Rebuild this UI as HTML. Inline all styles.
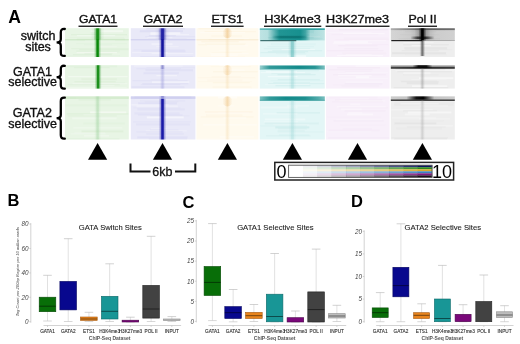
<!DOCTYPE html>
<html><head><meta charset="utf-8"><style>html,body{margin:0;padding:0;background:#fff;}svg{display:block;filter:blur(0.35px);}</style></head>
<body><svg width="520" height="344" viewBox="0 0 520 344">
<defs><linearGradient id="g1" x1="0" x2="1" y1="0" y2="0"><stop offset="0" stop-color="#0a880a" stop-opacity="0"/><stop offset="0.25" stop-color="#0a880a" stop-opacity="0.35"/><stop offset="0.4" stop-color="#0a880a" stop-opacity="1.0"/><stop offset="0.6" stop-color="#0a880a" stop-opacity="1.0"/><stop offset="0.75" stop-color="#0a880a" stop-opacity="0.35"/><stop offset="1" stop-color="#0a880a" stop-opacity="0"/></linearGradient><linearGradient id="g2" x1="0" x2="1" y1="0" y2="0"><stop offset="0" stop-color="#40a040" stop-opacity="0"/><stop offset="0.25" stop-color="#40a040" stop-opacity="0.0875"/><stop offset="0.4" stop-color="#40a040" stop-opacity="0.25"/><stop offset="0.6" stop-color="#40a040" stop-opacity="0.25"/><stop offset="0.75" stop-color="#40a040" stop-opacity="0.0875"/><stop offset="1" stop-color="#40a040" stop-opacity="0"/></linearGradient><linearGradient id="g3" x1="0" x2="1" y1="0" y2="0"><stop offset="0" stop-color="#0a880a" stop-opacity="0"/><stop offset="0.25" stop-color="#0a880a" stop-opacity="0.35"/><stop offset="0.4" stop-color="#0a880a" stop-opacity="1.0"/><stop offset="0.6" stop-color="#0a880a" stop-opacity="1.0"/><stop offset="0.75" stop-color="#0a880a" stop-opacity="0.35"/><stop offset="1" stop-color="#0a880a" stop-opacity="0"/></linearGradient><linearGradient id="g4" x1="0" x2="1" y1="0" y2="0"><stop offset="0" stop-color="#128a12" stop-opacity="0"/><stop offset="0.25" stop-color="#128a12" stop-opacity="0.33249999999999996"/><stop offset="0.4" stop-color="#128a12" stop-opacity="0.95"/><stop offset="0.6" stop-color="#128a12" stop-opacity="0.95"/><stop offset="0.75" stop-color="#128a12" stop-opacity="0.33249999999999996"/><stop offset="1" stop-color="#128a12" stop-opacity="0"/></linearGradient><linearGradient id="g5" x1="0" x2="1" y1="0" y2="0"><stop offset="0" stop-color="#9ad09a" stop-opacity="0"/><stop offset="0.25" stop-color="#9ad09a" stop-opacity="0.1575"/><stop offset="0.4" stop-color="#9ad09a" stop-opacity="0.45"/><stop offset="0.6" stop-color="#9ad09a" stop-opacity="0.45"/><stop offset="0.75" stop-color="#9ad09a" stop-opacity="0.1575"/><stop offset="1" stop-color="#9ad09a" stop-opacity="0"/></linearGradient><linearGradient id="g6" x1="0" x2="1" y1="0" y2="0"><stop offset="0" stop-color="#14149e" stop-opacity="0"/><stop offset="0.25" stop-color="#14149e" stop-opacity="0.35"/><stop offset="0.4" stop-color="#14149e" stop-opacity="1.0"/><stop offset="0.6" stop-color="#14149e" stop-opacity="1.0"/><stop offset="0.75" stop-color="#14149e" stop-opacity="0.35"/><stop offset="1" stop-color="#14149e" stop-opacity="0"/></linearGradient><linearGradient id="g7" x1="0" x2="1" y1="0" y2="0"><stop offset="0" stop-color="#4a4ab8" stop-opacity="0"/><stop offset="0.25" stop-color="#4a4ab8" stop-opacity="0.0875"/><stop offset="0.4" stop-color="#4a4ab8" stop-opacity="0.25"/><stop offset="0.6" stop-color="#4a4ab8" stop-opacity="0.25"/><stop offset="0.75" stop-color="#4a4ab8" stop-opacity="0.0875"/><stop offset="1" stop-color="#4a4ab8" stop-opacity="0"/></linearGradient><linearGradient id="g8" x1="0" x2="1" y1="0" y2="0"><stop offset="0" stop-color="#14149e" stop-opacity="0"/><stop offset="0.25" stop-color="#14149e" stop-opacity="0.35"/><stop offset="0.4" stop-color="#14149e" stop-opacity="1.0"/><stop offset="0.6" stop-color="#14149e" stop-opacity="1.0"/><stop offset="0.75" stop-color="#14149e" stop-opacity="0.35"/><stop offset="1" stop-color="#14149e" stop-opacity="0"/></linearGradient><linearGradient id="g9" x1="0" x2="1" y1="0" y2="0"><stop offset="0" stop-color="#9c9cdc" stop-opacity="0"/><stop offset="0.25" stop-color="#9c9cdc" stop-opacity="0.1575"/><stop offset="0.4" stop-color="#9c9cdc" stop-opacity="0.45"/><stop offset="0.6" stop-color="#9c9cdc" stop-opacity="0.45"/><stop offset="0.75" stop-color="#9c9cdc" stop-opacity="0.1575"/><stop offset="1" stop-color="#9c9cdc" stop-opacity="0"/></linearGradient><linearGradient id="g10" x1="0" x2="1" y1="0" y2="0"><stop offset="0" stop-color="#6060b8" stop-opacity="0"/><stop offset="0.25" stop-color="#6060b8" stop-opacity="0.175"/><stop offset="0.4" stop-color="#6060b8" stop-opacity="0.5"/><stop offset="0.6" stop-color="#6060b8" stop-opacity="0.5"/><stop offset="0.75" stop-color="#6060b8" stop-opacity="0.175"/><stop offset="1" stop-color="#6060b8" stop-opacity="0"/></linearGradient><linearGradient id="g11" x1="0" x2="1" y1="0" y2="0"><stop offset="0" stop-color="#1a1aa8" stop-opacity="0"/><stop offset="0.25" stop-color="#1a1aa8" stop-opacity="0.35"/><stop offset="0.4" stop-color="#1a1aa8" stop-opacity="1.0"/><stop offset="0.6" stop-color="#1a1aa8" stop-opacity="1.0"/><stop offset="0.75" stop-color="#1a1aa8" stop-opacity="0.35"/><stop offset="1" stop-color="#1a1aa8" stop-opacity="0"/></linearGradient><linearGradient id="g12" x1="0" x2="1" y1="0" y2="0"><stop offset="0" stop-color="#eab060" stop-opacity="0"/><stop offset="0.3" stop-color="#eab060" stop-opacity="0.25"/><stop offset="0.5" stop-color="#eab060" stop-opacity="0.5"/><stop offset="0.7" stop-color="#eab060" stop-opacity="0.25"/><stop offset="1" stop-color="#eab060" stop-opacity="0"/></linearGradient><linearGradient id="g13" x1="0" x2="1" y1="0" y2="0"><stop offset="0" stop-color="#f4d8a8" stop-opacity="0"/><stop offset="0.25" stop-color="#f4d8a8" stop-opacity="0.12249999999999998"/><stop offset="0.4" stop-color="#f4d8a8" stop-opacity="0.35"/><stop offset="0.6" stop-color="#f4d8a8" stop-opacity="0.35"/><stop offset="0.75" stop-color="#f4d8a8" stop-opacity="0.12249999999999998"/><stop offset="1" stop-color="#f4d8a8" stop-opacity="0"/></linearGradient><linearGradient id="g14" x1="0" x2="1" y1="0" y2="0"><stop offset="0" stop-color="#eab060" stop-opacity="0"/><stop offset="0.3" stop-color="#eab060" stop-opacity="0.175"/><stop offset="0.5" stop-color="#eab060" stop-opacity="0.35"/><stop offset="0.7" stop-color="#eab060" stop-opacity="0.175"/><stop offset="1" stop-color="#eab060" stop-opacity="0"/></linearGradient><linearGradient id="g15" x1="0" x2="1" y1="0" y2="0"><stop offset="0" stop-color="#f4d8a8" stop-opacity="0"/><stop offset="0.25" stop-color="#f4d8a8" stop-opacity="0.12249999999999998"/><stop offset="0.4" stop-color="#f4d8a8" stop-opacity="0.35"/><stop offset="0.6" stop-color="#f4d8a8" stop-opacity="0.35"/><stop offset="0.75" stop-color="#f4d8a8" stop-opacity="0.12249999999999998"/><stop offset="1" stop-color="#f4d8a8" stop-opacity="0"/></linearGradient><linearGradient id="g16" x1="0" x2="1" y1="0" y2="0"><stop offset="0" stop-color="#eab060" stop-opacity="0"/><stop offset="0.3" stop-color="#eab060" stop-opacity="0.2"/><stop offset="0.5" stop-color="#eab060" stop-opacity="0.4"/><stop offset="0.7" stop-color="#eab060" stop-opacity="0.2"/><stop offset="1" stop-color="#eab060" stop-opacity="0"/></linearGradient><linearGradient id="g17" x1="0" x2="1" y1="0" y2="0"><stop offset="0" stop-color="#f4d8a8" stop-opacity="0"/><stop offset="0.25" stop-color="#f4d8a8" stop-opacity="0.12249999999999998"/><stop offset="0.4" stop-color="#f4d8a8" stop-opacity="0.35"/><stop offset="0.6" stop-color="#f4d8a8" stop-opacity="0.35"/><stop offset="0.75" stop-color="#f4d8a8" stop-opacity="0.12249999999999998"/><stop offset="1" stop-color="#f4d8a8" stop-opacity="0"/></linearGradient><linearGradient id="g18" x1="0" x2="1" y1="0" y2="0"><stop offset="0" stop-color="#17908f" stop-opacity="0.18"/><stop offset="0.12" stop-color="#17908f" stop-opacity="0.22"/><stop offset="0.2" stop-color="#17908f" stop-opacity="0.55"/><stop offset="0.3" stop-color="#17908f" stop-opacity="0.95"/><stop offset="0.62" stop-color="#17908f" stop-opacity="1"/><stop offset="0.7" stop-color="#17908f" stop-opacity="0.8"/><stop offset="0.78" stop-color="#17908f" stop-opacity="0.3"/><stop offset="1" stop-color="#17908f" stop-opacity="0.18"/></linearGradient><linearGradient id="g19" x1="0" x2="1" y1="0" y2="0"><stop offset="0" stop-color="#1e9a9a" stop-opacity="0.6"/><stop offset="0.5" stop-color="#1e9a9a" stop-opacity="1"/><stop offset="1" stop-color="#1e9a9a" stop-opacity="0.85"/></linearGradient><linearGradient id="g20" x1="0" x2="1" y1="0" y2="0"><stop offset="0" stop-color="#0a7070" stop-opacity="0"/><stop offset="0.25" stop-color="#0a7070" stop-opacity="0.8"/><stop offset="0.75" stop-color="#0a7070" stop-opacity="0.8"/><stop offset="1" stop-color="#0a7070" stop-opacity="0"/></linearGradient><linearGradient id="g21" x1="0" x2="1" y1="0" y2="0"><stop offset="0" stop-color="#4ab0b0" stop-opacity="0"/><stop offset="0.25" stop-color="#4ab0b0" stop-opacity="0.1925"/><stop offset="0.4" stop-color="#4ab0b0" stop-opacity="0.55"/><stop offset="0.6" stop-color="#4ab0b0" stop-opacity="0.55"/><stop offset="0.75" stop-color="#4ab0b0" stop-opacity="0.1925"/><stop offset="1" stop-color="#4ab0b0" stop-opacity="0"/></linearGradient><linearGradient id="g22" x1="0" x2="1" y1="0" y2="0"><stop offset="0" stop-color="#138a8a" stop-opacity="0.35"/><stop offset="0.15" stop-color="#138a8a" stop-opacity="0.85"/><stop offset="0.6" stop-color="#138a8a" stop-opacity="1"/><stop offset="0.85" stop-color="#138a8a" stop-opacity="0.9"/><stop offset="1" stop-color="#138a8a" stop-opacity="0.5"/></linearGradient><linearGradient id="g23" x1="0" x2="1" y1="0" y2="0"><stop offset="0" stop-color="#8ad0d0" stop-opacity="0"/><stop offset="0.25" stop-color="#8ad0d0" stop-opacity="0.13999999999999999"/><stop offset="0.4" stop-color="#8ad0d0" stop-opacity="0.4"/><stop offset="0.6" stop-color="#8ad0d0" stop-opacity="0.4"/><stop offset="0.75" stop-color="#8ad0d0" stop-opacity="0.13999999999999999"/><stop offset="1" stop-color="#8ad0d0" stop-opacity="0"/></linearGradient><linearGradient id="g24" x1="0" x2="1" y1="0" y2="0"><stop offset="0" stop-color="#138a8a" stop-opacity="0.5"/><stop offset="0.15" stop-color="#138a8a" stop-opacity="0.85"/><stop offset="0.4" stop-color="#138a8a" stop-opacity="1"/><stop offset="0.7" stop-color="#138a8a" stop-opacity="0.95"/><stop offset="0.9" stop-color="#138a8a" stop-opacity="0.7"/><stop offset="1" stop-color="#138a8a" stop-opacity="0.5"/></linearGradient><linearGradient id="g25" x1="0" x2="1" y1="0" y2="0"><stop offset="0" stop-color="#96d4d4" stop-opacity="0"/><stop offset="0.25" stop-color="#96d4d4" stop-opacity="0.13299999999999998"/><stop offset="0.4" stop-color="#96d4d4" stop-opacity="0.38"/><stop offset="0.6" stop-color="#96d4d4" stop-opacity="0.38"/><stop offset="0.75" stop-color="#96d4d4" stop-opacity="0.13299999999999998"/><stop offset="1" stop-color="#96d4d4" stop-opacity="0"/></linearGradient><linearGradient id="g26" x1="0" x2="1" y1="0" y2="0"><stop offset="0" stop-color="#9a9a9a" stop-opacity="0.3"/><stop offset="0.3" stop-color="#9a9a9a" stop-opacity="0.4"/><stop offset="0.45" stop-color="#9a9a9a" stop-opacity="0.7"/><stop offset="0.55" stop-color="#9a9a9a" stop-opacity="0.7"/><stop offset="0.7" stop-color="#9a9a9a" stop-opacity="0.4"/><stop offset="1" stop-color="#9a9a9a" stop-opacity="0.35"/></linearGradient><linearGradient id="g27" x1="0" x2="1" y1="0" y2="0"><stop offset="0" stop-color="#555555" stop-opacity="0.3"/><stop offset="0.45" stop-color="#555555" stop-opacity="0.8"/><stop offset="0.55" stop-color="#555555" stop-opacity="0.9"/><stop offset="1" stop-color="#555555" stop-opacity="0.8"/></linearGradient><linearGradient id="g28" x1="0" x2="1" y1="0" y2="0"><stop offset="0" stop-color="#222222" stop-opacity="0"/><stop offset="0.3" stop-color="#222222" stop-opacity="0.8"/><stop offset="0.6" stop-color="#222222" stop-opacity="1"/><stop offset="1" stop-color="#222222" stop-opacity="0"/></linearGradient><linearGradient id="g29" x1="0" x2="1" y1="0" y2="0"><stop offset="0" stop-color="#333333" stop-opacity="0"/><stop offset="0.25" stop-color="#333333" stop-opacity="0.1575"/><stop offset="0.4" stop-color="#333333" stop-opacity="0.45"/><stop offset="0.6" stop-color="#333333" stop-opacity="0.45"/><stop offset="0.75" stop-color="#333333" stop-opacity="0.1575"/><stop offset="1" stop-color="#333333" stop-opacity="0"/></linearGradient><linearGradient id="g30" x1="0" x2="1" y1="0" y2="0"><stop offset="0" stop-color="#000000" stop-opacity="0"/><stop offset="0.25" stop-color="#000000" stop-opacity="0.35"/><stop offset="0.4" stop-color="#000000" stop-opacity="1.0"/><stop offset="0.6" stop-color="#000000" stop-opacity="1.0"/><stop offset="0.75" stop-color="#000000" stop-opacity="0.35"/><stop offset="1" stop-color="#000000" stop-opacity="0"/></linearGradient><linearGradient id="g31" x1="0" x2="1" y1="0" y2="0"><stop offset="0" stop-color="#444444" stop-opacity="0"/><stop offset="0.25" stop-color="#444444" stop-opacity="0.24499999999999997"/><stop offset="0.4" stop-color="#444444" stop-opacity="0.7"/><stop offset="0.6" stop-color="#444444" stop-opacity="0.7"/><stop offset="0.75" stop-color="#444444" stop-opacity="0.24499999999999997"/><stop offset="1" stop-color="#444444" stop-opacity="0"/></linearGradient><linearGradient id="g32" x1="0" x2="1" y1="0" y2="0"><stop offset="0" stop-color="#1a1a1a" stop-opacity="0.8"/><stop offset="0.35" stop-color="#1a1a1a" stop-opacity="0.9"/><stop offset="0.5" stop-color="#1a1a1a" stop-opacity="1"/><stop offset="0.65" stop-color="#1a1a1a" stop-opacity="0.9"/><stop offset="1" stop-color="#1a1a1a" stop-opacity="0.85"/></linearGradient><linearGradient id="g33" x1="0" x2="1" y1="0" y2="0"><stop offset="0" stop-color="#000000" stop-opacity="0"/><stop offset="0.3" stop-color="#000000" stop-opacity="0.9"/><stop offset="0.7" stop-color="#000000" stop-opacity="0.9"/><stop offset="1" stop-color="#000000" stop-opacity="0"/></linearGradient><linearGradient id="g34" x1="0" x2="1" y1="0" y2="0"><stop offset="0" stop-color="#888888" stop-opacity="0"/><stop offset="0.25" stop-color="#888888" stop-opacity="0.13999999999999999"/><stop offset="0.4" stop-color="#888888" stop-opacity="0.4"/><stop offset="0.6" stop-color="#888888" stop-opacity="0.4"/><stop offset="0.75" stop-color="#888888" stop-opacity="0.13999999999999999"/><stop offset="1" stop-color="#888888" stop-opacity="0"/></linearGradient><linearGradient id="g35" x1="0" x2="1" y1="0" y2="0"><stop offset="0" stop-color="#aaaaaa" stop-opacity="0.5"/><stop offset="0.5" stop-color="#aaaaaa" stop-opacity="0.7"/><stop offset="1" stop-color="#aaaaaa" stop-opacity="0.5"/></linearGradient><linearGradient id="g36" x1="0" x2="1" y1="0" y2="0"><stop offset="0" stop-color="#000000" stop-opacity="0"/><stop offset="0.35" stop-color="#000000" stop-opacity="0.9"/><stop offset="0.6" stop-color="#000000" stop-opacity="1"/><stop offset="1" stop-color="#000000" stop-opacity="0"/></linearGradient><linearGradient id="g37" x1="0" x2="1" y1="0" y2="0"><stop offset="0" stop-color="#aaaaaa" stop-opacity="0"/><stop offset="0.25" stop-color="#aaaaaa" stop-opacity="0.13999999999999999"/><stop offset="0.4" stop-color="#aaaaaa" stop-opacity="0.4"/><stop offset="0.6" stop-color="#aaaaaa" stop-opacity="0.4"/><stop offset="0.75" stop-color="#aaaaaa" stop-opacity="0.13999999999999999"/><stop offset="1" stop-color="#aaaaaa" stop-opacity="0"/></linearGradient></defs>
<rect width="520" height="344" fill="#fff"/>
<rect x="65.00" y="28.20" width="63.80" height="28.80" fill="#e8f5e5"/><rect x="90.65" y="30.20" width="32.45" height="2.00" fill="#ffffff" opacity="0.44"/><rect x="71.07" y="34.20" width="55.92" height="1.00" fill="#c8e4c0" opacity="0.30"/><rect x="76.88" y="35.20" width="38.33" height="1.00" fill="#ffffff" opacity="0.42"/><rect x="68.80" y="37.20" width="55.16" height="1.00" fill="#c8e4c0" opacity="0.11"/><rect x="76.82" y="38.20" width="48.07" height="2.00" fill="#c8e4c0" opacity="0.16"/><rect x="84.87" y="40.20" width="30.21" height="1.00" fill="#ffffff" opacity="0.28"/><rect x="76.26" y="43.20" width="50.38" height="1.00" fill="#c8e4c0" opacity="0.13"/><rect x="84.16" y="44.20" width="27.69" height="1.00" fill="#c8e4c0" opacity="0.10"/><rect x="94.41" y="46.20" width="22.47" height="1.00" fill="#ffffff" opacity="0.22"/><rect x="71.22" y="48.20" width="57.27" height="1.00" fill="#c8e4c0" opacity="0.20"/><rect x="79.14" y="49.20" width="49.44" height="1.00" fill="#c8e4c0" opacity="0.22"/><rect x="76.19" y="50.20" width="43.67" height="2.00" fill="#c8e4c0" opacity="0.15"/><rect x="76.51" y="52.20" width="40.44" height="1.00" fill="#ffffff" opacity="0.50"/><rect x="84.42" y="53.20" width="28.31" height="1.00" fill="#c8e4c0" opacity="0.18"/><rect x="72.89" y="54.20" width="38.83" height="1.00" fill="#c8e4c0" opacity="0.26"/><rect x="67.93" y="55.20" width="52.04" height="1.00" fill="#c8e4c0" opacity="0.10"/><rect x="65.00" y="65.20" width="63.80" height="23.40" fill="#e8f5e5"/><rect x="66.80" y="65.20" width="50.34" height="2.00" fill="#c8e4c0" opacity="0.16"/><rect x="74.06" y="67.20" width="35.55" height="1.00" fill="#c8e4c0" opacity="0.22"/><rect x="68.12" y="76.20" width="59.52" height="1.00" fill="#ffffff" opacity="0.49"/><rect x="81.47" y="78.20" width="35.40" height="2.00" fill="#c8e4c0" opacity="0.17"/><rect x="74.59" y="81.20" width="41.14" height="1.00" fill="#c8e4c0" opacity="0.25"/><rect x="83.35" y="82.20" width="41.37" height="1.00" fill="#c8e4c0" opacity="0.10"/><rect x="72.47" y="83.20" width="54.93" height="1.00" fill="#ffffff" opacity="0.28"/><rect x="67.77" y="84.20" width="52.02" height="1.00" fill="#c8e4c0" opacity="0.18"/><rect x="92.71" y="85.20" width="21.85" height="1.00" fill="#ffffff" opacity="0.31"/><rect x="67.25" y="87.20" width="59.54" height="1.00" fill="#ffffff" opacity="0.29"/><rect x="65.00" y="96.40" width="63.80" height="43.10" fill="#e8f5e5"/><rect x="76.03" y="97.40" width="51.43" height="1.00" fill="#ffffff" opacity="0.48"/><rect x="78.70" y="99.40" width="32.08" height="1.00" fill="#c8e4c0" opacity="0.32"/><rect x="65.25" y="104.40" width="62.11" height="2.00" fill="#c8e4c0" opacity="0.12"/><rect x="90.15" y="111.40" width="36.14" height="2.00" fill="#ffffff" opacity="0.43"/><rect x="66.75" y="113.40" width="61.60" height="1.00" fill="#c8e4c0" opacity="0.34"/><rect x="83.44" y="114.40" width="17.75" height="1.00" fill="#ffffff" opacity="0.28"/><rect x="67.86" y="115.40" width="48.70" height="1.00" fill="#c8e4c0" opacity="0.23"/><rect x="72.24" y="117.40" width="44.41" height="2.00" fill="#ffffff" opacity="0.28"/><rect x="83.42" y="122.40" width="41.19" height="2.00" fill="#c8e4c0" opacity="0.13"/><rect x="73.25" y="127.40" width="49.12" height="1.00" fill="#ffffff" opacity="0.32"/><rect x="81.57" y="130.40" width="41.66" height="2.00" fill="#c8e4c0" opacity="0.25"/><rect x="74.27" y="132.40" width="30.78" height="1.00" fill="#ffffff" opacity="0.21"/><rect x="70.70" y="133.40" width="35.03" height="1.00" fill="#ffffff" opacity="0.28"/><rect x="83.90" y="135.40" width="25.25" height="1.00" fill="#ffffff" opacity="0.44"/><rect x="65.22" y="138.40" width="54.14" height="1.00" fill="#c8e4c0" opacity="0.28"/><rect x="130.80" y="28.20" width="64.60" height="28.80" fill="#e9e9f8"/><rect x="146.37" y="28.20" width="38.23" height="1.00" fill="#cacaee" opacity="0.34"/><rect x="146.64" y="29.20" width="30.64" height="1.00" fill="#cacaee" opacity="0.12"/><rect x="139.87" y="30.20" width="43.02" height="2.00" fill="#cacaee" opacity="0.33"/><rect x="150.38" y="32.20" width="29.94" height="2.00" fill="#ffffff" opacity="0.45"/><rect x="150.34" y="34.20" width="38.91" height="1.00" fill="#ffffff" opacity="0.42"/><rect x="148.80" y="35.20" width="26.99" height="1.00" fill="#cacaee" opacity="0.34"/><rect x="145.17" y="36.20" width="49.92" height="1.00" fill="#cacaee" opacity="0.23"/><rect x="147.31" y="37.20" width="25.04" height="1.00" fill="#ffffff" opacity="0.35"/><rect x="148.15" y="38.20" width="38.67" height="1.00" fill="#cacaee" opacity="0.11"/><rect x="160.79" y="40.20" width="7.59" height="1.00" fill="#ffffff" opacity="0.36"/><rect x="151.47" y="43.20" width="21.19" height="2.00" fill="#ffffff" opacity="0.33"/><rect x="156.11" y="46.20" width="22.49" height="1.00" fill="#ffffff" opacity="0.29"/><rect x="133.62" y="49.20" width="50.88" height="1.00" fill="#cacaee" opacity="0.17"/><rect x="141.52" y="50.20" width="43.82" height="2.00" fill="#cacaee" opacity="0.25"/><rect x="132.12" y="52.20" width="35.76" height="1.00" fill="#ffffff" opacity="0.36"/><rect x="151.53" y="53.20" width="41.89" height="1.00" fill="#ffffff" opacity="0.36"/><rect x="140.26" y="56.20" width="52.60" height="0.80" fill="#cacaee" opacity="0.21"/><rect x="130.80" y="65.20" width="64.60" height="23.40" fill="#e9e9f8"/><rect x="134.06" y="65.20" width="48.76" height="2.00" fill="#ffffff" opacity="0.21"/><rect x="146.39" y="67.20" width="48.56" height="1.00" fill="#cacaee" opacity="0.15"/><rect x="136.48" y="68.20" width="44.45" height="1.00" fill="#cacaee" opacity="0.16"/><rect x="145.42" y="69.20" width="47.53" height="2.00" fill="#cacaee" opacity="0.23"/><rect x="143.46" y="72.20" width="35.44" height="2.00" fill="#cacaee" opacity="0.25"/><rect x="156.34" y="75.20" width="20.71" height="1.00" fill="#ffffff" opacity="0.46"/><rect x="150.77" y="79.20" width="26.88" height="1.00" fill="#cacaee" opacity="0.13"/><rect x="132.56" y="80.20" width="55.08" height="1.00" fill="#cacaee" opacity="0.21"/><rect x="151.95" y="81.20" width="37.44" height="2.00" fill="#ffffff" opacity="0.39"/><rect x="142.20" y="83.20" width="46.05" height="1.00" fill="#cacaee" opacity="0.31"/><rect x="140.91" y="84.20" width="39.32" height="1.00" fill="#cacaee" opacity="0.23"/><rect x="131.55" y="86.20" width="52.82" height="2.00" fill="#cacaee" opacity="0.23"/><rect x="130.80" y="96.40" width="64.60" height="43.10" fill="#e9e9f8"/><rect x="134.49" y="96.40" width="56.83" height="2.00" fill="#cacaee" opacity="0.31"/><rect x="134.83" y="99.40" width="40.14" height="1.00" fill="#ffffff" opacity="0.22"/><rect x="140.14" y="100.40" width="44.96" height="1.00" fill="#cacaee" opacity="0.21"/><rect x="144.82" y="101.40" width="33.69" height="1.00" fill="#cacaee" opacity="0.15"/><rect x="138.20" y="102.40" width="38.76" height="2.00" fill="#cacaee" opacity="0.25"/><rect x="131.26" y="104.40" width="37.34" height="1.00" fill="#ffffff" opacity="0.44"/><rect x="136.53" y="105.40" width="41.33" height="2.00" fill="#ffffff" opacity="0.30"/><rect x="133.13" y="107.40" width="47.41" height="1.00" fill="#cacaee" opacity="0.14"/><rect x="137.40" y="108.40" width="47.22" height="2.00" fill="#cacaee" opacity="0.19"/><rect x="134.50" y="112.40" width="44.96" height="2.00" fill="#cacaee" opacity="0.18"/><rect x="137.91" y="114.40" width="44.71" height="1.00" fill="#cacaee" opacity="0.26"/><rect x="150.03" y="115.40" width="39.39" height="1.00" fill="#cacaee" opacity="0.15"/><rect x="146.79" y="116.40" width="36.92" height="2.00" fill="#ffffff" opacity="0.50"/><rect x="132.96" y="121.40" width="57.70" height="1.00" fill="#cacaee" opacity="0.21"/><rect x="135.97" y="123.40" width="53.92" height="2.00" fill="#cacaee" opacity="0.19"/><rect x="150.85" y="128.40" width="15.89" height="1.00" fill="#ffffff" opacity="0.32"/><rect x="150.20" y="129.40" width="28.09" height="1.00" fill="#cacaee" opacity="0.24"/><rect x="145.64" y="130.40" width="41.23" height="1.00" fill="#ffffff" opacity="0.32"/><rect x="136.52" y="131.40" width="45.78" height="1.00" fill="#cacaee" opacity="0.24"/><rect x="146.25" y="133.40" width="37.43" height="1.00" fill="#cacaee" opacity="0.26"/><rect x="137.10" y="136.40" width="50.34" height="2.00" fill="#cacaee" opacity="0.25"/><rect x="148.91" y="138.40" width="37.90" height="1.00" fill="#cacaee" opacity="0.22"/><rect x="196.40" y="28.20" width="62.00" height="28.80" fill="#fffaee"/><rect x="198.37" y="28.20" width="43.83" height="1.00" fill="#f8e8cc" opacity="0.33"/><rect x="204.74" y="31.20" width="51.30" height="1.00" fill="#f8e8cc" opacity="0.32"/><rect x="200.13" y="32.20" width="44.98" height="1.00" fill="#ffffff" opacity="0.40"/><rect x="211.28" y="35.20" width="30.82" height="2.00" fill="#f8e8cc" opacity="0.13"/><rect x="211.49" y="38.20" width="37.65" height="1.00" fill="#ffffff" opacity="0.35"/><rect x="208.60" y="39.20" width="35.30" height="1.00" fill="#f8e8cc" opacity="0.27"/><rect x="201.38" y="41.20" width="37.43" height="1.00" fill="#f8e8cc" opacity="0.33"/><rect x="204.90" y="43.20" width="41.03" height="1.00" fill="#f8e8cc" opacity="0.13"/><rect x="198.13" y="44.20" width="46.75" height="1.00" fill="#f8e8cc" opacity="0.24"/><rect x="207.02" y="45.20" width="41.23" height="1.00" fill="#ffffff" opacity="0.35"/><rect x="218.82" y="50.20" width="27.88" height="1.00" fill="#ffffff" opacity="0.25"/><rect x="211.58" y="52.20" width="30.30" height="1.00" fill="#f8e8cc" opacity="0.15"/><rect x="210.26" y="53.20" width="38.41" height="1.00" fill="#ffffff" opacity="0.36"/><rect x="210.95" y="54.20" width="26.89" height="2.00" fill="#ffffff" opacity="0.29"/><rect x="200.67" y="56.20" width="44.49" height="0.80" fill="#f8e8cc" opacity="0.12"/><rect x="196.40" y="65.20" width="62.00" height="23.40" fill="#fffaee"/><rect x="219.32" y="65.20" width="29.24" height="1.00" fill="#ffffff" opacity="0.46"/><rect x="210.92" y="66.20" width="40.15" height="1.00" fill="#f8e8cc" opacity="0.13"/><rect x="223.96" y="67.20" width="6.25" height="2.00" fill="#ffffff" opacity="0.47"/><rect x="226.17" y="69.20" width="18.48" height="2.00" fill="#ffffff" opacity="0.27"/><rect x="212.97" y="71.20" width="44.95" height="1.00" fill="#f8e8cc" opacity="0.27"/><rect x="211.58" y="76.20" width="29.20" height="1.00" fill="#f8e8cc" opacity="0.17"/><rect x="197.55" y="77.20" width="57.67" height="1.00" fill="#f8e8cc" opacity="0.17"/><rect x="207.34" y="79.20" width="35.30" height="2.00" fill="#f8e8cc" opacity="0.12"/><rect x="198.51" y="81.20" width="53.62" height="1.00" fill="#f8e8cc" opacity="0.11"/><rect x="212.73" y="82.20" width="37.23" height="1.00" fill="#f8e8cc" opacity="0.28"/><rect x="212.55" y="86.20" width="39.20" height="2.00" fill="#f8e8cc" opacity="0.13"/><rect x="196.40" y="96.40" width="62.00" height="43.10" fill="#fffaee"/><rect x="218.03" y="96.40" width="19.13" height="2.00" fill="#ffffff" opacity="0.47"/><rect x="217.70" y="105.40" width="16.63" height="1.00" fill="#ffffff" opacity="0.33"/><rect x="204.90" y="111.40" width="47.66" height="1.00" fill="#f8e8cc" opacity="0.34"/><rect x="218.32" y="112.40" width="30.97" height="1.00" fill="#ffffff" opacity="0.25"/><rect x="206.02" y="114.40" width="36.37" height="2.00" fill="#f8e8cc" opacity="0.18"/><rect x="200.75" y="116.40" width="52.94" height="1.00" fill="#f8e8cc" opacity="0.28"/><rect x="223.24" y="117.40" width="23.09" height="1.00" fill="#ffffff" opacity="0.47"/><rect x="203.03" y="124.40" width="53.88" height="1.00" fill="#ffffff" opacity="0.48"/><rect x="219.56" y="136.40" width="34.50" height="1.00" fill="#ffffff" opacity="0.47"/><rect x="197.99" y="138.40" width="43.26" height="1.00" fill="#ffffff" opacity="0.25"/><rect x="259.80" y="28.20" width="65.00" height="28.80" fill="#e3f6f6"/><rect x="272.10" y="30.20" width="42.14" height="1.00" fill="#b0e0e0" opacity="0.32"/><rect x="274.77" y="31.20" width="39.16" height="2.00" fill="#b0e0e0" opacity="0.23"/><rect x="273.44" y="34.20" width="35.73" height="2.00" fill="#b0e0e0" opacity="0.21"/><rect x="275.57" y="36.20" width="44.50" height="1.00" fill="#ffffff" opacity="0.45"/><rect x="267.91" y="37.20" width="45.76" height="1.00" fill="#b0e0e0" opacity="0.35"/><rect x="273.54" y="38.20" width="49.14" height="1.00" fill="#b0e0e0" opacity="0.20"/><rect x="271.08" y="43.20" width="44.56" height="2.00" fill="#b0e0e0" opacity="0.10"/><rect x="267.32" y="46.20" width="46.68" height="1.00" fill="#b0e0e0" opacity="0.17"/><rect x="263.80" y="48.20" width="46.37" height="1.00" fill="#b0e0e0" opacity="0.18"/><rect x="281.51" y="49.20" width="33.34" height="1.00" fill="#ffffff" opacity="0.45"/><rect x="272.23" y="50.20" width="49.94" height="1.00" fill="#b0e0e0" opacity="0.26"/><rect x="267.85" y="51.20" width="40.22" height="1.00" fill="#b0e0e0" opacity="0.25"/><rect x="260.45" y="52.20" width="44.60" height="1.00" fill="#b0e0e0" opacity="0.21"/><rect x="276.27" y="53.20" width="30.00" height="1.00" fill="#b0e0e0" opacity="0.13"/><rect x="287.44" y="55.20" width="18.67" height="1.80" fill="#ffffff" opacity="0.42"/><rect x="259.80" y="65.20" width="65.00" height="23.40" fill="#e3f6f6"/><rect x="263.58" y="67.20" width="55.09" height="1.00" fill="#b0e0e0" opacity="0.21"/><rect x="266.46" y="68.20" width="52.48" height="2.00" fill="#b0e0e0" opacity="0.13"/><rect x="270.58" y="70.20" width="48.25" height="1.00" fill="#b0e0e0" opacity="0.16"/><rect x="265.75" y="71.20" width="31.05" height="1.00" fill="#ffffff" opacity="0.50"/><rect x="260.60" y="72.20" width="44.42" height="1.00" fill="#ffffff" opacity="0.43"/><rect x="271.33" y="73.20" width="39.53" height="1.00" fill="#b0e0e0" opacity="0.18"/><rect x="277.46" y="74.20" width="38.29" height="1.00" fill="#b0e0e0" opacity="0.28"/><rect x="267.73" y="76.20" width="29.79" height="1.00" fill="#ffffff" opacity="0.50"/><rect x="277.74" y="79.20" width="42.24" height="1.00" fill="#b0e0e0" opacity="0.24"/><rect x="270.76" y="80.20" width="52.52" height="1.00" fill="#b0e0e0" opacity="0.11"/><rect x="273.22" y="82.20" width="36.82" height="1.00" fill="#b0e0e0" opacity="0.20"/><rect x="268.04" y="83.20" width="56.10" height="1.00" fill="#b0e0e0" opacity="0.23"/><rect x="265.01" y="84.20" width="44.20" height="1.00" fill="#ffffff" opacity="0.28"/><rect x="275.48" y="85.20" width="34.89" height="1.00" fill="#b0e0e0" opacity="0.30"/><rect x="259.80" y="96.40" width="65.00" height="43.10" fill="#e3f6f6"/><rect x="272.14" y="96.40" width="33.94" height="1.00" fill="#ffffff" opacity="0.41"/><rect x="286.96" y="105.40" width="22.06" height="1.00" fill="#ffffff" opacity="0.36"/><rect x="260.53" y="106.40" width="37.06" height="2.00" fill="#ffffff" opacity="0.29"/><rect x="276.69" y="112.40" width="43.27" height="1.00" fill="#b0e0e0" opacity="0.32"/><rect x="262.96" y="113.40" width="34.54" height="1.00" fill="#ffffff" opacity="0.36"/><rect x="264.72" y="118.40" width="40.59" height="2.00" fill="#ffffff" opacity="0.33"/><rect x="263.70" y="121.40" width="34.64" height="1.00" fill="#ffffff" opacity="0.37"/><rect x="264.68" y="122.40" width="54.14" height="2.00" fill="#b0e0e0" opacity="0.18"/><rect x="273.30" y="124.40" width="35.59" height="1.00" fill="#ffffff" opacity="0.24"/><rect x="260.42" y="125.40" width="46.41" height="1.00" fill="#b0e0e0" opacity="0.18"/><rect x="275.33" y="126.40" width="33.94" height="2.00" fill="#b0e0e0" opacity="0.32"/><rect x="278.25" y="128.40" width="28.61" height="1.00" fill="#b0e0e0" opacity="0.15"/><rect x="277.39" y="130.40" width="27.50" height="1.00" fill="#b0e0e0" opacity="0.15"/><rect x="277.40" y="131.40" width="46.40" height="1.00" fill="#b0e0e0" opacity="0.13"/><rect x="278.94" y="134.40" width="30.28" height="1.00" fill="#b0e0e0" opacity="0.20"/><rect x="265.94" y="135.40" width="44.65" height="1.00" fill="#b0e0e0" opacity="0.15"/><rect x="326.00" y="28.20" width="63.60" height="28.80" fill="#f8f0fa"/><rect x="332.87" y="28.20" width="47.70" height="1.00" fill="#ffffff" opacity="0.48"/><rect x="338.80" y="29.20" width="49.00" height="1.00" fill="#ecdeee" opacity="0.35"/><rect x="327.36" y="32.20" width="44.25" height="1.00" fill="#ffffff" opacity="0.29"/><rect x="343.06" y="33.20" width="41.61" height="1.00" fill="#ffffff" opacity="0.50"/><rect x="331.58" y="34.20" width="47.06" height="1.00" fill="#ecdeee" opacity="0.15"/><rect x="343.83" y="37.20" width="44.56" height="2.00" fill="#ecdeee" opacity="0.12"/><rect x="335.67" y="39.20" width="53.29" height="1.00" fill="#ecdeee" opacity="0.17"/><rect x="349.14" y="40.20" width="37.10" height="1.00" fill="#ffffff" opacity="0.33"/><rect x="333.68" y="41.20" width="34.43" height="2.00" fill="#ffffff" opacity="0.42"/><rect x="332.64" y="43.20" width="39.56" height="1.00" fill="#ffffff" opacity="0.35"/><rect x="345.41" y="44.20" width="43.14" height="1.00" fill="#ecdeee" opacity="0.21"/><rect x="338.17" y="45.20" width="39.26" height="1.00" fill="#ecdeee" opacity="0.30"/><rect x="344.15" y="48.20" width="34.08" height="1.00" fill="#ecdeee" opacity="0.24"/><rect x="326.85" y="50.20" width="56.47" height="1.00" fill="#ecdeee" opacity="0.26"/><rect x="342.41" y="52.20" width="43.76" height="2.00" fill="#ecdeee" opacity="0.16"/><rect x="345.77" y="54.20" width="25.95" height="1.00" fill="#ffffff" opacity="0.34"/><rect x="336.93" y="55.20" width="46.18" height="1.00" fill="#ffffff" opacity="0.49"/><rect x="341.11" y="56.20" width="36.48" height="0.80" fill="#ecdeee" opacity="0.13"/><rect x="326.00" y="65.20" width="63.60" height="23.40" fill="#f8f0fa"/><rect x="355.57" y="65.20" width="33.93" height="2.00" fill="#ffffff" opacity="0.32"/><rect x="337.12" y="67.20" width="43.04" height="1.00" fill="#ecdeee" opacity="0.33"/><rect x="328.38" y="69.20" width="44.12" height="1.00" fill="#ecdeee" opacity="0.20"/><rect x="344.93" y="71.20" width="26.21" height="1.00" fill="#ecdeee" opacity="0.15"/><rect x="345.49" y="72.20" width="42.35" height="1.00" fill="#ffffff" opacity="0.30"/><rect x="337.79" y="73.20" width="26.52" height="1.00" fill="#ffffff" opacity="0.31"/><rect x="332.95" y="74.20" width="52.98" height="1.00" fill="#ecdeee" opacity="0.24"/><rect x="338.01" y="75.20" width="33.78" height="1.00" fill="#ffffff" opacity="0.43"/><rect x="355.80" y="76.20" width="13.42" height="2.00" fill="#ffffff" opacity="0.46"/><rect x="338.58" y="78.20" width="49.61" height="1.00" fill="#ffffff" opacity="0.28"/><rect x="345.48" y="81.20" width="37.59" height="2.00" fill="#ffffff" opacity="0.23"/><rect x="344.73" y="83.20" width="37.67" height="1.00" fill="#ecdeee" opacity="0.29"/><rect x="332.44" y="84.20" width="49.47" height="1.00" fill="#ecdeee" opacity="0.12"/><rect x="341.41" y="85.20" width="37.80" height="2.00" fill="#ecdeee" opacity="0.11"/><rect x="326.00" y="96.40" width="63.60" height="43.10" fill="#f8f0fa"/><rect x="329.02" y="96.40" width="48.67" height="2.00" fill="#ecdeee" opacity="0.11"/><rect x="340.36" y="98.40" width="28.42" height="1.00" fill="#ffffff" opacity="0.36"/><rect x="335.03" y="99.40" width="47.03" height="1.00" fill="#ecdeee" opacity="0.32"/><rect x="339.48" y="100.40" width="46.02" height="1.00" fill="#ffffff" opacity="0.36"/><rect x="331.84" y="101.40" width="50.86" height="1.00" fill="#ecdeee" opacity="0.15"/><rect x="350.26" y="103.40" width="10.07" height="2.00" fill="#ffffff" opacity="0.29"/><rect x="336.60" y="106.40" width="49.34" height="1.00" fill="#ffffff" opacity="0.43"/><rect x="338.65" y="107.40" width="49.15" height="1.00" fill="#ecdeee" opacity="0.21"/><rect x="340.70" y="108.40" width="20.98" height="2.00" fill="#ffffff" opacity="0.29"/><rect x="344.51" y="110.40" width="41.05" height="1.00" fill="#ecdeee" opacity="0.29"/><rect x="348.28" y="112.40" width="14.09" height="1.00" fill="#ffffff" opacity="0.44"/><rect x="347.04" y="113.40" width="25.96" height="2.00" fill="#ffffff" opacity="0.41"/><rect x="327.26" y="116.40" width="54.25" height="1.00" fill="#ecdeee" opacity="0.11"/><rect x="335.77" y="119.40" width="46.23" height="1.00" fill="#ffffff" opacity="0.21"/><rect x="333.47" y="120.40" width="50.19" height="1.00" fill="#ecdeee" opacity="0.30"/><rect x="340.15" y="124.40" width="45.12" height="1.00" fill="#ecdeee" opacity="0.12"/><rect x="342.59" y="128.40" width="29.41" height="1.00" fill="#ecdeee" opacity="0.20"/><rect x="328.72" y="129.40" width="50.74" height="2.00" fill="#ecdeee" opacity="0.18"/><rect x="326.63" y="131.40" width="44.80" height="1.00" fill="#ffffff" opacity="0.28"/><rect x="353.79" y="133.40" width="6.41" height="1.00" fill="#ffffff" opacity="0.20"/><rect x="328.08" y="137.40" width="61.13" height="1.00" fill="#ecdeee" opacity="0.30"/><rect x="390.80" y="28.20" width="64.00" height="28.80" fill="#eeeeee"/><rect x="403.23" y="29.20" width="41.75" height="1.00" fill="#d2d2d2" opacity="0.24"/><rect x="401.81" y="30.20" width="32.95" height="1.00" fill="#ffffff" opacity="0.35"/><rect x="404.92" y="31.20" width="31.53" height="1.00" fill="#d2d2d2" opacity="0.28"/><rect x="399.83" y="34.20" width="39.53" height="1.00" fill="#d2d2d2" opacity="0.22"/><rect x="398.75" y="38.20" width="41.26" height="1.00" fill="#d2d2d2" opacity="0.27"/><rect x="404.46" y="40.20" width="46.67" height="1.00" fill="#d2d2d2" opacity="0.31"/><rect x="403.42" y="42.20" width="30.17" height="1.00" fill="#ffffff" opacity="0.39"/><rect x="403.22" y="44.20" width="45.74" height="1.00" fill="#d2d2d2" opacity="0.26"/><rect x="411.61" y="45.20" width="19.46" height="1.00" fill="#ffffff" opacity="0.48"/><rect x="404.12" y="47.20" width="42.95" height="2.00" fill="#d2d2d2" opacity="0.27"/><rect x="405.07" y="49.20" width="47.37" height="1.00" fill="#d2d2d2" opacity="0.11"/><rect x="401.57" y="50.20" width="37.20" height="1.00" fill="#d2d2d2" opacity="0.20"/><rect x="392.15" y="52.20" width="53.88" height="2.00" fill="#d2d2d2" opacity="0.32"/><rect x="405.24" y="54.20" width="41.40" height="1.00" fill="#d2d2d2" opacity="0.14"/><rect x="390.80" y="65.20" width="64.00" height="23.40" fill="#eeeeee"/><rect x="414.81" y="65.20" width="35.59" height="1.00" fill="#ffffff" opacity="0.25"/><rect x="417.70" y="66.20" width="10.68" height="1.00" fill="#ffffff" opacity="0.33"/><rect x="391.18" y="67.20" width="52.30" height="1.00" fill="#d2d2d2" opacity="0.14"/><rect x="395.35" y="68.20" width="49.80" height="2.00" fill="#d2d2d2" opacity="0.19"/><rect x="395.35" y="70.20" width="59.24" height="1.00" fill="#ffffff" opacity="0.43"/><rect x="397.53" y="71.20" width="54.48" height="1.00" fill="#d2d2d2" opacity="0.30"/><rect x="403.24" y="72.20" width="27.35" height="2.00" fill="#ffffff" opacity="0.32"/><rect x="403.13" y="74.20" width="35.12" height="1.00" fill="#d2d2d2" opacity="0.16"/><rect x="419.02" y="77.20" width="34.37" height="2.00" fill="#ffffff" opacity="0.46"/><rect x="411.05" y="79.20" width="35.62" height="1.00" fill="#ffffff" opacity="0.21"/><rect x="400.12" y="80.20" width="36.95" height="1.00" fill="#d2d2d2" opacity="0.12"/><rect x="401.35" y="81.20" width="37.25" height="1.00" fill="#d2d2d2" opacity="0.30"/><rect x="406.86" y="82.20" width="31.39" height="2.00" fill="#d2d2d2" opacity="0.29"/><rect x="411.96" y="85.20" width="35.33" height="2.00" fill="#ffffff" opacity="0.47"/><rect x="393.62" y="87.20" width="54.71" height="1.00" fill="#d2d2d2" opacity="0.28"/><rect x="390.80" y="96.40" width="64.00" height="43.10" fill="#eeeeee"/><rect x="396.38" y="98.40" width="40.31" height="2.00" fill="#d2d2d2" opacity="0.18"/><rect x="395.07" y="100.40" width="56.13" height="1.00" fill="#d2d2d2" opacity="0.11"/><rect x="411.21" y="101.40" width="38.27" height="1.00" fill="#ffffff" opacity="0.23"/><rect x="394.45" y="102.40" width="59.91" height="1.00" fill="#d2d2d2" opacity="0.20"/><rect x="400.44" y="103.40" width="38.24" height="1.00" fill="#ffffff" opacity="0.49"/><rect x="394.29" y="104.40" width="59.18" height="1.00" fill="#d2d2d2" opacity="0.25"/><rect x="419.68" y="105.40" width="28.53" height="1.00" fill="#ffffff" opacity="0.32"/><rect x="391.10" y="109.40" width="41.79" height="1.00" fill="#ffffff" opacity="0.40"/><rect x="403.13" y="110.40" width="33.92" height="1.00" fill="#d2d2d2" opacity="0.31"/><rect x="407.83" y="111.40" width="43.54" height="2.00" fill="#ffffff" opacity="0.45"/><rect x="404.82" y="113.40" width="24.88" height="2.00" fill="#ffffff" opacity="0.35"/><rect x="391.77" y="117.40" width="44.21" height="1.00" fill="#ffffff" opacity="0.33"/><rect x="418.75" y="118.40" width="31.49" height="1.00" fill="#ffffff" opacity="0.34"/><rect x="400.18" y="120.40" width="43.59" height="1.00" fill="#d2d2d2" opacity="0.11"/><rect x="394.54" y="122.40" width="41.78" height="2.00" fill="#d2d2d2" opacity="0.30"/><rect x="420.61" y="125.40" width="32.24" height="1.00" fill="#ffffff" opacity="0.46"/><rect x="406.94" y="126.40" width="38.78" height="1.00" fill="#d2d2d2" opacity="0.23"/><rect x="396.39" y="127.40" width="45.53" height="2.00" fill="#d2d2d2" opacity="0.12"/><rect x="391.54" y="137.40" width="56.35" height="1.00" fill="#d2d2d2" opacity="0.32"/><rect x="394.43" y="138.40" width="52.59" height="1.00" fill="#d2d2d2" opacity="0.31"/><rect x="65.00" y="39.30" width="63.80" height="1.00" fill="#b0d8a8" opacity="0.55"/><rect x="130.80" y="39.30" width="64.60" height="1.00" fill="#b4b4e4" opacity="0.55"/><rect x="196.40" y="39.30" width="62.00" height="1.00" fill="#f0dcb8" opacity="0.55"/><rect x="93.50" y="28.30" width="8.20" height="11.70" fill="url(#g1)"/><rect x="90.60" y="28.30" width="14.00" height="10.70" fill="url(#g2)"/><rect x="94.00" y="40.00" width="7.20" height="17.00" fill="url(#g3)"/><rect x="94.50" y="65.20" width="7.20" height="23.40" fill="url(#g4)"/><rect x="65.00" y="96.40" width="63.80" height="2.50" fill="#c4e4bc" opacity="0.60"/><rect x="94.10" y="96.40" width="7.00" height="43.10" fill="url(#g5)"/><rect x="158.10" y="28.30" width="8.80" height="11.70" fill="url(#g6)"/><rect x="155.00" y="28.30" width="15.00" height="10.70" fill="url(#g7)"/><rect x="158.70" y="40.00" width="7.60" height="17.00" fill="url(#g8)"/><rect x="159.50" y="65.20" width="6.00" height="23.40" fill="url(#g9)"/><rect x="159.75" y="65.20" width="5.50" height="3.80" fill="url(#g10)"/><rect x="158.70" y="96.40" width="7.60" height="43.10" fill="url(#g11)"/><rect x="130.80" y="96.40" width="64.60" height="2.50" fill="#c8c8ec" opacity="0.70"/><ellipse cx="227.4" cy="33.2" rx="5" ry="5" fill="url(#g12)"/><rect x="224.40" y="28.20" width="6.00" height="28.80" fill="url(#g13)"/><ellipse cx="227.4" cy="70.2" rx="5" ry="5" fill="url(#g14)"/><rect x="224.40" y="65.20" width="6.00" height="23.40" fill="url(#g15)"/><ellipse cx="227.4" cy="101.4" rx="5" ry="5" fill="url(#g16)"/><rect x="224.40" y="96.40" width="6.00" height="43.10" fill="url(#g17)"/><rect x="259.80" y="29.80" width="65.00" height="10.60" fill="url(#g18)"/><rect x="259.80" y="28.30" width="65.00" height="1.70" fill="url(#g19)"/><rect x="271.80" y="35.80" width="36.00" height="2.60" fill="url(#g20)"/><rect x="260.30" y="40.10" width="36.00" height="1.10" fill="#1f5656" opacity="0.90"/><rect x="287.90" y="41.00" width="9.00" height="16.00" fill="url(#g21)"/><rect x="259.80" y="65.50" width="65.00" height="3.60" fill="url(#g22)"/><rect x="259.80" y="68.80" width="65.00" height="1.00" fill="#5cb8b8" opacity="0.60"/><rect x="288.40" y="69.50" width="8.00" height="19.10" fill="url(#g23)"/><rect x="259.80" y="96.40" width="65.00" height="4.20" fill="url(#g24)"/><rect x="259.80" y="99.80" width="65.00" height="1.00" fill="#3a9e9e" opacity="0.70"/><rect x="288.40" y="100.60" width="8.00" height="38.90" fill="url(#g25)"/><rect x="390.80" y="28.30" width="64.00" height="12.00" fill="url(#g26)"/><rect x="390.80" y="28.30" width="64.00" height="1.80" fill="url(#g27)"/><rect x="410.40" y="36.50" width="24.00" height="2.60" fill="url(#g28)"/><rect x="414.40" y="28.30" width="16.00" height="12.30" fill="url(#g29)"/><rect x="418.40" y="28.30" width="8.00" height="12.70" fill="url(#g30)"/><rect x="391.30" y="40.00" width="31.60" height="1.20" fill="#161616" opacity="0.95"/><rect x="422.40" y="40.00" width="32.40" height="1.00" fill="#888888" opacity="0.60"/><rect x="419.40" y="41.00" width="6.00" height="15.00" fill="url(#g31)"/><rect x="390.80" y="65.40" width="64.00" height="1.60" fill="#8a8a8a" opacity="0.80"/><rect x="390.80" y="66.90" width="64.00" height="1.90" fill="url(#g32)"/><rect x="412.40" y="65.20" width="20.00" height="2.60" fill="url(#g33)"/><rect x="419.65" y="68.60" width="5.50" height="20.00" fill="url(#g34)"/><rect x="390.80" y="96.40" width="64.00" height="3.40" fill="url(#g35)"/><rect x="406.40" y="96.40" width="28.00" height="3.40" fill="url(#g36)"/><rect x="390.80" y="99.50" width="64.00" height="1.40" fill="#262626" opacity="0.95"/><rect x="419.65" y="100.60" width="5.50" height="38.90" fill="url(#g37)"/>
<text x="98.0" y="23.4" font-family="Liberation Sans, sans-serif" font-size="11.5" text-anchor="middle" fill="#111" stroke="#111" stroke-width="0.35" textLength="38.2" lengthAdjust="spacingAndGlyphs">GATA1</text>
<rect x="78.5" y="25.6" width="39.0" height="1.3" fill="#111"/>
<text x="163.0" y="23.4" font-family="Liberation Sans, sans-serif" font-size="11.5" text-anchor="middle" fill="#111" stroke="#111" stroke-width="0.35" textLength="39.2" lengthAdjust="spacingAndGlyphs">GATA2</text>
<rect x="143" y="25.6" width="40.0" height="1.3" fill="#111"/>
<text x="227.3" y="23.4" font-family="Liberation Sans, sans-serif" font-size="11.5" text-anchor="middle" fill="#111" stroke="#111" stroke-width="0.35" textLength="31.8" lengthAdjust="spacingAndGlyphs">ETS1</text>
<rect x="211" y="25.6" width="32.6" height="1.3" fill="#111"/>
<text x="292.6" y="23.4" font-family="Liberation Sans, sans-serif" font-size="11.5" text-anchor="middle" fill="#111" stroke="#111" stroke-width="0.35" textLength="56.5" lengthAdjust="spacingAndGlyphs">H3K4me3</text>
<rect x="264" y="25.6" width="57.3" height="1.3" fill="#111"/>
<text x="357.6" y="23.4" font-family="Liberation Sans, sans-serif" font-size="11.5" text-anchor="middle" fill="#111" stroke="#111" stroke-width="0.35" textLength="63.1" lengthAdjust="spacingAndGlyphs">H3K27me3</text>
<rect x="325.6" y="25.6" width="63.9" height="1.3" fill="#111"/>
<text x="422.5" y="23.4" font-family="Liberation Sans, sans-serif" font-size="11.5" text-anchor="middle" fill="#111" stroke="#111" stroke-width="0.35" textLength="28.2" lengthAdjust="spacingAndGlyphs">Pol II</text>
<rect x="408" y="25.6" width="29.0" height="1.3" fill="#111"/>
<text x="8.2" y="22.9" font-family="Liberation Sans, sans-serif" font-size="17.6" font-weight="bold" fill="#000">A</text>
<text x="7.5" y="206.3" font-family="Liberation Sans, sans-serif" font-size="16.5" font-weight="bold" fill="#000">B</text>
<text x="182.5" y="207.5" font-family="Liberation Sans, sans-serif" font-size="16.5" font-weight="bold" fill="#000">C</text>
<text x="351" y="207.1" font-family="Liberation Sans, sans-serif" font-size="16.5" font-weight="bold" fill="#000">D</text>
<text x="38" y="39.9" font-family="Liberation Sans, sans-serif" font-size="12.5" text-anchor="middle" fill="#111" stroke="#111" stroke-width="0.35">switch</text>
<text x="38" y="51" font-family="Liberation Sans, sans-serif" font-size="12.5" text-anchor="middle" fill="#111" stroke="#111" stroke-width="0.35">sites</text>
<text x="32.5" y="75.9" font-family="Liberation Sans, sans-serif" font-size="12.5" text-anchor="middle" fill="#111" stroke="#111" stroke-width="0.35">GATA1</text>
<text x="32.6" y="86.1" font-family="Liberation Sans, sans-serif" font-size="12.5" text-anchor="middle" fill="#111" stroke="#111" stroke-width="0.35">selective</text>
<text x="32.3" y="116.8" font-family="Liberation Sans, sans-serif" font-size="12.5" text-anchor="middle" fill="#111" stroke="#111" stroke-width="0.35">GATA2</text>
<text x="32.6" y="127.6" font-family="Liberation Sans, sans-serif" font-size="12.5" text-anchor="middle" fill="#111" stroke="#111" stroke-width="0.35">selective</text>
<path d="M64.8,29.0 C61.599999999999994,28.7 60.8,30.0 60.8,32.5 L60.8,39.25 C60.8,41.45 58.6,42.45 56.6,42.45 C58.6,42.45 60.8,43.45 60.8,45.650000000000006 L60.8,52.4 C60.8,54.9 61.599999999999994,56.199999999999996 64.8,55.9" fill="none" stroke="#000" stroke-width="2.3" stroke-linecap="round"/>
<path d="M64.8,65.8 C61.599999999999994,65.5 60.8,66.8 60.8,69.3 L60.8,73.99999999999999 C60.8,76.19999999999999 58.6,77.19999999999999 56.6,77.19999999999999 C58.6,77.19999999999999 60.8,78.19999999999999 60.8,80.39999999999999 L60.8,85.1 C60.8,87.6 61.599999999999994,88.89999999999999 64.8,88.6" fill="none" stroke="#000" stroke-width="2.3" stroke-linecap="round"/>
<path d="M64.8,97.7 C61.599999999999994,97.4 60.8,98.7 60.8,101.2 L60.8,114.95 C60.8,117.15 58.6,118.15 56.6,118.15 C58.6,118.15 60.8,119.15 60.8,121.35000000000001 L60.8,135.1 C60.8,137.6 61.599999999999994,138.9 64.8,138.6" fill="none" stroke="#000" stroke-width="2.3" stroke-linecap="round"/>
<path d="M97.6,143 L107.19999999999999,159.7 L88.0,159.7Z" fill="#000"/>
<path d="M162.5,143 L172.1,159.7 L152.9,159.7Z" fill="#000"/>
<path d="M227.4,143 L237.0,159.7 L217.8,159.7Z" fill="#000"/>
<path d="M292.4,143 L302.0,159.7 L282.79999999999995,159.7Z" fill="#000"/>
<path d="M357.5,143 L367.1,159.7 L347.9,159.7Z" fill="#000"/>
<path d="M422.4,143 L432.0,159.7 L412.79999999999995,159.7Z" fill="#000"/>
<path d="M130.5,163.5 V171.6 H150.5 M175,171.6 H195.3 V163.5" fill="none" stroke="#111" stroke-width="2"/>
<text x="162.3" y="175.8" font-family="Liberation Sans, sans-serif" font-size="12.5" text-anchor="middle" fill="#111" stroke="#111" stroke-width="0.3">6kb</text>
<rect x="274.8" y="162.4" width="178.8" height="17.6" fill="#fff" stroke="#222" stroke-width="1.5"/>
<text x="281.4" y="177.6" font-family="Liberation Sans, sans-serif" font-size="18" text-anchor="middle" fill="#000">0</text>
<text x="442.0" y="177.6" font-family="Liberation Sans, sans-serif" font-size="18" text-anchor="middle" fill="#000">10</text>
<rect x="302.94" y="165.20" width="14.64" height="2.08" fill="#0c1460" opacity="0.07"/>
<rect x="317.28" y="165.20" width="14.64" height="2.08" fill="#0c1460" opacity="0.16"/>
<rect x="331.62" y="165.20" width="14.64" height="2.08" fill="#0c1460" opacity="0.27"/>
<rect x="345.96" y="165.20" width="14.64" height="2.08" fill="#0c1460" opacity="0.38"/>
<rect x="360.30" y="165.20" width="14.64" height="2.08" fill="#0c1460" opacity="0.49"/>
<rect x="374.64" y="165.20" width="14.64" height="2.08" fill="#0c1460" opacity="0.61"/>
<rect x="388.98" y="165.20" width="14.64" height="2.08" fill="#0c1460" opacity="0.74"/>
<rect x="403.32" y="165.20" width="14.64" height="2.08" fill="#0c1460" opacity="0.87"/>
<rect x="417.66" y="165.20" width="14.64" height="2.08" fill="#0c1460" opacity="1.00"/>
<rect x="302.94" y="167.23" width="14.64" height="2.08" fill="#2e8a1c" opacity="0.07"/>
<rect x="317.28" y="167.23" width="14.64" height="2.08" fill="#2e8a1c" opacity="0.16"/>
<rect x="331.62" y="167.23" width="14.64" height="2.08" fill="#2e8a1c" opacity="0.27"/>
<rect x="345.96" y="167.23" width="14.64" height="2.08" fill="#2e8a1c" opacity="0.38"/>
<rect x="360.30" y="167.23" width="14.64" height="2.08" fill="#2e8a1c" opacity="0.49"/>
<rect x="374.64" y="167.23" width="14.64" height="2.08" fill="#2e8a1c" opacity="0.61"/>
<rect x="388.98" y="167.23" width="14.64" height="2.08" fill="#2e8a1c" opacity="0.74"/>
<rect x="403.32" y="167.23" width="14.64" height="2.08" fill="#2e8a1c" opacity="0.87"/>
<rect x="417.66" y="167.23" width="14.64" height="2.08" fill="#2e8a1c" opacity="1.00"/>
<rect x="302.94" y="169.27" width="14.64" height="2.08" fill="#d8a82c" opacity="0.07"/>
<rect x="317.28" y="169.27" width="14.64" height="2.08" fill="#d8a82c" opacity="0.16"/>
<rect x="331.62" y="169.27" width="14.64" height="2.08" fill="#d8a82c" opacity="0.27"/>
<rect x="345.96" y="169.27" width="14.64" height="2.08" fill="#d8a82c" opacity="0.38"/>
<rect x="360.30" y="169.27" width="14.64" height="2.08" fill="#d8a82c" opacity="0.49"/>
<rect x="374.64" y="169.27" width="14.64" height="2.08" fill="#d8a82c" opacity="0.61"/>
<rect x="388.98" y="169.27" width="14.64" height="2.08" fill="#d8a82c" opacity="0.74"/>
<rect x="403.32" y="169.27" width="14.64" height="2.08" fill="#d8a82c" opacity="0.87"/>
<rect x="417.66" y="169.27" width="14.64" height="2.08" fill="#d8a82c" opacity="1.00"/>
<rect x="302.94" y="171.30" width="14.64" height="2.08" fill="#3a80c0" opacity="0.07"/>
<rect x="317.28" y="171.30" width="14.64" height="2.08" fill="#3a80c0" opacity="0.16"/>
<rect x="331.62" y="171.30" width="14.64" height="2.08" fill="#3a80c0" opacity="0.27"/>
<rect x="345.96" y="171.30" width="14.64" height="2.08" fill="#3a80c0" opacity="0.38"/>
<rect x="360.30" y="171.30" width="14.64" height="2.08" fill="#3a80c0" opacity="0.49"/>
<rect x="374.64" y="171.30" width="14.64" height="2.08" fill="#3a80c0" opacity="0.61"/>
<rect x="388.98" y="171.30" width="14.64" height="2.08" fill="#3a80c0" opacity="0.74"/>
<rect x="403.32" y="171.30" width="14.64" height="2.08" fill="#3a80c0" opacity="0.87"/>
<rect x="417.66" y="171.30" width="14.64" height="2.08" fill="#3a80c0" opacity="1.00"/>
<rect x="302.94" y="173.33" width="14.64" height="2.08" fill="#801a80" opacity="0.07"/>
<rect x="317.28" y="173.33" width="14.64" height="2.08" fill="#801a80" opacity="0.16"/>
<rect x="331.62" y="173.33" width="14.64" height="2.08" fill="#801a80" opacity="0.27"/>
<rect x="345.96" y="173.33" width="14.64" height="2.08" fill="#801a80" opacity="0.38"/>
<rect x="360.30" y="173.33" width="14.64" height="2.08" fill="#801a80" opacity="0.49"/>
<rect x="374.64" y="173.33" width="14.64" height="2.08" fill="#801a80" opacity="0.61"/>
<rect x="388.98" y="173.33" width="14.64" height="2.08" fill="#801a80" opacity="0.74"/>
<rect x="403.32" y="173.33" width="14.64" height="2.08" fill="#801a80" opacity="0.87"/>
<rect x="417.66" y="173.33" width="14.64" height="2.08" fill="#801a80" opacity="1.00"/>
<rect x="302.94" y="175.37" width="14.64" height="2.08" fill="#1a0c1a" opacity="0.07"/>
<rect x="317.28" y="175.37" width="14.64" height="2.08" fill="#1a0c1a" opacity="0.16"/>
<rect x="331.62" y="175.37" width="14.64" height="2.08" fill="#1a0c1a" opacity="0.27"/>
<rect x="345.96" y="175.37" width="14.64" height="2.08" fill="#1a0c1a" opacity="0.38"/>
<rect x="360.30" y="175.37" width="14.64" height="2.08" fill="#1a0c1a" opacity="0.49"/>
<rect x="374.64" y="175.37" width="14.64" height="2.08" fill="#1a0c1a" opacity="0.61"/>
<rect x="388.98" y="175.37" width="14.64" height="2.08" fill="#1a0c1a" opacity="0.74"/>
<rect x="403.32" y="175.37" width="14.64" height="2.08" fill="#1a0c1a" opacity="0.87"/>
<rect x="417.66" y="175.37" width="14.64" height="2.08" fill="#1a0c1a" opacity="1.00"/>
<rect x="288.6" y="165.2" width="143.39999999999998" height="12.200000000000017" fill="none" stroke="#555" stroke-width="0.9"/>
<line x1="30.8" y1="223.1" x2="30.8" y2="322.7" stroke="#c8c8c8" stroke-width="0.8"/>
<line x1="43.5" y1="325.5" x2="181.12" y2="325.5" stroke="#c8c8c8" stroke-width="0.8"/>
<line x1="29.3" y1="321.7" x2="30.8" y2="321.7" stroke="#bbb" stroke-width="0.6"/>
<text x="28.6" y="324.0" font-family="Liberation Sans, sans-serif" font-size="6.3" font-style="italic" text-anchor="end" fill="#444">0</text>
<line x1="29.3" y1="297.3" x2="30.8" y2="297.3" stroke="#bbb" stroke-width="0.6"/>
<text x="28.6" y="299.6" font-family="Liberation Sans, sans-serif" font-size="6.3" font-style="italic" text-anchor="end" fill="#444">20</text>
<line x1="29.3" y1="272.9" x2="30.8" y2="272.9" stroke="#bbb" stroke-width="0.6"/>
<text x="28.6" y="275.2" font-family="Liberation Sans, sans-serif" font-size="6.3" font-style="italic" text-anchor="end" fill="#444">40</text>
<line x1="29.3" y1="248.5" x2="30.8" y2="248.5" stroke="#bbb" stroke-width="0.6"/>
<text x="28.6" y="250.8" font-family="Liberation Sans, sans-serif" font-size="6.3" font-style="italic" text-anchor="end" fill="#444">60</text>
<line x1="29.3" y1="224.1" x2="30.8" y2="224.1" stroke="#bbb" stroke-width="0.6"/>
<text x="28.6" y="226.4" font-family="Liberation Sans, sans-serif" font-size="6.3" font-style="italic" text-anchor="end" fill="#444">80</text>
<line x1="47.5" y1="275.3" x2="47.5" y2="321" stroke="#cccccc" stroke-width="0.6"/>
<line x1="43.2" y1="275.3" x2="51.8" y2="275.3" stroke="#b4b4b4" stroke-width="0.6"/>
<line x1="43.2" y1="321" x2="51.8" y2="321" stroke="#bdbdbd" stroke-width="0.6"/>
<rect x="39.2" y="297.2" width="16.6" height="14.5" fill="#086e08" stroke="#064a06" stroke-width="0.6"/>
<line x1="39.2" y1="306.2" x2="55.8" y2="306.2" stroke="#000" stroke-opacity="0.55" stroke-width="0.9"/>
<line x1="47.5" y1="325.5" x2="47.5" y2="327" stroke="#bbb" stroke-width="0.6"/>
<text x="47.5" y="333.0" font-family="Liberation Sans, sans-serif" font-size="4.7" text-anchor="middle" fill="#333" stroke="#333" stroke-width="0.12">GATA1</text>
<line x1="68.22" y1="238.7" x2="68.22" y2="321.5" stroke="#cccccc" stroke-width="0.6"/>
<line x1="63.92" y1="238.7" x2="72.52" y2="238.7" stroke="#b4b4b4" stroke-width="0.6"/>
<line x1="63.92" y1="321.5" x2="72.52" y2="321.5" stroke="#bdbdbd" stroke-width="0.6"/>
<rect x="59.9" y="281.4" width="16.6" height="28.5" fill="#08088e" stroke="#060660" stroke-width="0.6"/>
<line x1="68.22" y1="325.5" x2="68.22" y2="327" stroke="#bbb" stroke-width="0.6"/>
<text x="68.22" y="333.0" font-family="Liberation Sans, sans-serif" font-size="4.7" text-anchor="middle" fill="#333" stroke="#333" stroke-width="0.12">GATA2</text>
<line x1="88.94" y1="312.3" x2="88.94" y2="321.5" stroke="#cccccc" stroke-width="0.6"/>
<line x1="84.64" y1="312.3" x2="93.24" y2="312.3" stroke="#b4b4b4" stroke-width="0.6"/>
<line x1="84.64" y1="321.5" x2="93.24" y2="321.5" stroke="#bdbdbd" stroke-width="0.6"/>
<rect x="80.6" y="317" width="16.6" height="3.4" fill="#e8841c" stroke="#a85a10" stroke-width="0.6"/>
<line x1="80.6" y1="319" x2="97.2" y2="319" stroke="#000" stroke-opacity="0.55" stroke-width="0.9"/>
<line x1="88.94" y1="325.5" x2="88.94" y2="327" stroke="#bbb" stroke-width="0.6"/>
<text x="88.94" y="333.0" font-family="Liberation Sans, sans-serif" font-size="4.7" text-anchor="middle" fill="#333" stroke="#333" stroke-width="0.12">ETS1</text>
<line x1="109.66" y1="263.8" x2="109.66" y2="321.5" stroke="#cccccc" stroke-width="0.6"/>
<line x1="105.36" y1="263.8" x2="113.96" y2="263.8" stroke="#b4b4b4" stroke-width="0.6"/>
<line x1="105.36" y1="321.5" x2="113.96" y2="321.5" stroke="#bdbdbd" stroke-width="0.6"/>
<rect x="101.4" y="296.3" width="16.6" height="22.7" fill="#189696" stroke="#0e6a6a" stroke-width="0.6"/>
<line x1="101.4" y1="311.3" x2="118.0" y2="311.3" stroke="#000" stroke-opacity="0.55" stroke-width="0.9"/>
<line x1="109.66" y1="325.5" x2="109.66" y2="327" stroke="#bbb" stroke-width="0.6"/>
<text x="109.66" y="333.0" font-family="Liberation Sans, sans-serif" font-size="4.7" text-anchor="middle" fill="#333" stroke="#333" stroke-width="0.12">H3K4me3</text>
<line x1="130.38" y1="317.2" x2="130.38" y2="322" stroke="#cccccc" stroke-width="0.6"/>
<line x1="126.08" y1="317.2" x2="134.68" y2="317.2" stroke="#b4b4b4" stroke-width="0.6"/>
<line x1="126.08" y1="322" x2="134.68" y2="322" stroke="#bdbdbd" stroke-width="0.6"/>
<rect x="122.1" y="320.2" width="16.6" height="1.8" fill="#7a087a" stroke="#4a064a" stroke-width="0.6"/>
<line x1="130.38" y1="325.5" x2="130.38" y2="327" stroke="#bbb" stroke-width="0.6"/>
<text x="130.38" y="333.0" font-family="Liberation Sans, sans-serif" font-size="4.7" text-anchor="middle" fill="#333" stroke="#333" stroke-width="0.12">H3K27me3</text>
<line x1="151.1" y1="236.3" x2="151.1" y2="321.5" stroke="#cccccc" stroke-width="0.6"/>
<line x1="146.79999999999998" y1="236.3" x2="155.4" y2="236.3" stroke="#b4b4b4" stroke-width="0.6"/>
<line x1="146.79999999999998" y1="321.5" x2="155.4" y2="321.5" stroke="#bdbdbd" stroke-width="0.6"/>
<rect x="142.8" y="285.4" width="16.6" height="32.7" fill="#424242" stroke="#222222" stroke-width="0.6"/>
<line x1="142.8" y1="309" x2="159.4" y2="309" stroke="#000" stroke-opacity="0.55" stroke-width="0.9"/>
<line x1="151.1" y1="325.5" x2="151.1" y2="327" stroke="#bbb" stroke-width="0.6"/>
<text x="151.1" y="333.0" font-family="Liberation Sans, sans-serif" font-size="4.7" text-anchor="middle" fill="#333" stroke="#333" stroke-width="0.12">POL II</text>
<line x1="171.82" y1="316.6" x2="171.82" y2="321.5" stroke="#cccccc" stroke-width="0.6"/>
<line x1="167.51999999999998" y1="316.6" x2="176.12" y2="316.6" stroke="#b4b4b4" stroke-width="0.6"/>
<line x1="167.51999999999998" y1="321.5" x2="176.12" y2="321.5" stroke="#bdbdbd" stroke-width="0.6"/>
<rect x="163.5" y="319" width="16.6" height="1.5" fill="#bdbdbd" stroke="#8a8a8a" stroke-width="0.6"/>
<line x1="171.82" y1="325.5" x2="171.82" y2="327" stroke="#bbb" stroke-width="0.6"/>
<text x="171.82" y="333.0" font-family="Liberation Sans, sans-serif" font-size="4.7" text-anchor="middle" fill="#333" stroke="#333" stroke-width="0.12">INPUT</text>
<text x="109.66" y="339.6" font-family="Liberation Sans, sans-serif" font-size="5.0" font-weight="bold" text-anchor="middle" fill="#555">ChIP-Seq Dataset</text>
<text x="110.3" y="229.9" font-family="Liberation Sans, sans-serif" font-size="8" text-anchor="middle" fill="#222" stroke="#222" stroke-width="0.1" textLength="63" lengthAdjust="spacingAndGlyphs">GATA Switch Sites</text>
<text transform="translate(18.9,271.7) rotate(-90)" font-family="Liberation Sans, sans-serif" font-size="4.1" font-style="italic" text-anchor="middle" fill="#444">Tag Count per 200bp Region per 10 million reads</text>
<line x1="196.3" y1="219.89999999999998" x2="196.3" y2="322.4" stroke="#c8c8c8" stroke-width="0.8"/>
<line x1="208.4" y1="325.5" x2="346.2" y2="325.5" stroke="#c8c8c8" stroke-width="0.8"/>
<line x1="194.8" y1="321.4" x2="196.3" y2="321.4" stroke="#bbb" stroke-width="0.6"/>
<text x="194.10000000000002" y="323.7" font-family="Liberation Sans, sans-serif" font-size="6.3" font-style="italic" text-anchor="end" fill="#444">0</text>
<line x1="194.8" y1="301.3" x2="196.3" y2="301.3" stroke="#bbb" stroke-width="0.6"/>
<text x="194.10000000000002" y="303.6" font-family="Liberation Sans, sans-serif" font-size="6.3" font-style="italic" text-anchor="end" fill="#444">5</text>
<line x1="194.8" y1="281.2" x2="196.3" y2="281.2" stroke="#bbb" stroke-width="0.6"/>
<text x="194.10000000000002" y="283.5" font-family="Liberation Sans, sans-serif" font-size="6.3" font-style="italic" text-anchor="end" fill="#444">10</text>
<line x1="194.8" y1="261.1" x2="196.3" y2="261.1" stroke="#bbb" stroke-width="0.6"/>
<text x="194.10000000000002" y="263.4" font-family="Liberation Sans, sans-serif" font-size="6.3" font-style="italic" text-anchor="end" fill="#444">15</text>
<line x1="194.8" y1="241.0" x2="196.3" y2="241.0" stroke="#bbb" stroke-width="0.6"/>
<text x="194.10000000000002" y="243.3" font-family="Liberation Sans, sans-serif" font-size="6.3" font-style="italic" text-anchor="end" fill="#444">20</text>
<line x1="194.8" y1="220.9" x2="196.3" y2="220.9" stroke="#bbb" stroke-width="0.6"/>
<text x="194.10000000000002" y="223.2" font-family="Liberation Sans, sans-serif" font-size="6.3" font-style="italic" text-anchor="end" fill="#444">25</text>
<line x1="212.4" y1="223.6" x2="212.4" y2="320.6" stroke="#cccccc" stroke-width="0.6"/>
<line x1="208.1" y1="223.6" x2="216.70000000000002" y2="223.6" stroke="#b4b4b4" stroke-width="0.6"/>
<line x1="208.1" y1="320.6" x2="216.70000000000002" y2="320.6" stroke="#bdbdbd" stroke-width="0.6"/>
<rect x="204.1" y="266.5" width="16.6" height="29.0" fill="#086e08" stroke="#064a06" stroke-width="0.6"/>
<line x1="204.1" y1="282.4" x2="220.7" y2="282.4" stroke="#000" stroke-opacity="0.55" stroke-width="0.9"/>
<line x1="212.4" y1="325.5" x2="212.4" y2="327" stroke="#bbb" stroke-width="0.6"/>
<text x="212.4" y="333.0" font-family="Liberation Sans, sans-serif" font-size="4.7" text-anchor="middle" fill="#333" stroke="#333" stroke-width="0.12">GATA1</text>
<line x1="233.15" y1="289.5" x2="233.15" y2="321.8" stroke="#cccccc" stroke-width="0.6"/>
<line x1="228.85" y1="289.5" x2="237.45000000000002" y2="289.5" stroke="#b4b4b4" stroke-width="0.6"/>
<line x1="228.85" y1="321.8" x2="237.45000000000002" y2="321.8" stroke="#bdbdbd" stroke-width="0.6"/>
<rect x="224.8" y="306.6" width="16.6" height="11.9" fill="#08088e" stroke="#060660" stroke-width="0.6"/>
<line x1="224.8" y1="312.7" x2="241.5" y2="312.7" stroke="#000" stroke-opacity="0.55" stroke-width="0.9"/>
<line x1="233.15" y1="325.5" x2="233.15" y2="327" stroke="#bbb" stroke-width="0.6"/>
<text x="233.15" y="333.0" font-family="Liberation Sans, sans-serif" font-size="4.7" text-anchor="middle" fill="#333" stroke="#333" stroke-width="0.12">GATA2</text>
<line x1="253.9" y1="304.5" x2="253.9" y2="321.5" stroke="#cccccc" stroke-width="0.6"/>
<line x1="249.6" y1="304.5" x2="258.2" y2="304.5" stroke="#b4b4b4" stroke-width="0.6"/>
<line x1="249.6" y1="321.5" x2="258.2" y2="321.5" stroke="#bdbdbd" stroke-width="0.6"/>
<rect x="245.6" y="312.4" width="16.6" height="6.1" fill="#e8841c" stroke="#a85a10" stroke-width="0.6"/>
<line x1="245.6" y1="315.7" x2="262.2" y2="315.7" stroke="#000" stroke-opacity="0.55" stroke-width="0.9"/>
<line x1="253.9" y1="325.5" x2="253.9" y2="327" stroke="#bbb" stroke-width="0.6"/>
<text x="253.9" y="333.0" font-family="Liberation Sans, sans-serif" font-size="4.7" text-anchor="middle" fill="#333" stroke="#333" stroke-width="0.12">ETS1</text>
<line x1="274.65" y1="253.5" x2="274.65" y2="321.8" stroke="#cccccc" stroke-width="0.6"/>
<line x1="270.34999999999997" y1="253.5" x2="278.95" y2="253.5" stroke="#b4b4b4" stroke-width="0.6"/>
<line x1="270.34999999999997" y1="321.8" x2="278.95" y2="321.8" stroke="#bdbdbd" stroke-width="0.6"/>
<rect x="266.3" y="294.2" width="16.6" height="27.6" fill="#189696" stroke="#0e6a6a" stroke-width="0.6"/>
<line x1="266.3" y1="316.5" x2="282.9" y2="316.5" stroke="#000" stroke-opacity="0.55" stroke-width="0.9"/>
<line x1="274.65" y1="325.5" x2="274.65" y2="327" stroke="#bbb" stroke-width="0.6"/>
<text x="274.65" y="333.0" font-family="Liberation Sans, sans-serif" font-size="4.7" text-anchor="middle" fill="#333" stroke="#333" stroke-width="0.12">H3K4me3</text>
<line x1="295.4" y1="311" x2="295.4" y2="322" stroke="#cccccc" stroke-width="0.6"/>
<line x1="291.09999999999997" y1="311" x2="299.7" y2="311" stroke="#b4b4b4" stroke-width="0.6"/>
<line x1="291.09999999999997" y1="322" x2="299.7" y2="322" stroke="#bdbdbd" stroke-width="0.6"/>
<rect x="287.1" y="317.7" width="16.6" height="4.3" fill="#7a087a" stroke="#4a064a" stroke-width="0.6"/>
<line x1="295.4" y1="325.5" x2="295.4" y2="327" stroke="#bbb" stroke-width="0.6"/>
<text x="295.4" y="333.0" font-family="Liberation Sans, sans-serif" font-size="4.7" text-anchor="middle" fill="#333" stroke="#333" stroke-width="0.12">H3K27me3</text>
<line x1="316.15" y1="249.1" x2="316.15" y2="322" stroke="#cccccc" stroke-width="0.6"/>
<line x1="311.84999999999997" y1="249.1" x2="320.45" y2="249.1" stroke="#b4b4b4" stroke-width="0.6"/>
<line x1="311.84999999999997" y1="322" x2="320.45" y2="322" stroke="#bdbdbd" stroke-width="0.6"/>
<rect x="307.8" y="291.9" width="16.6" height="30.1" fill="#424242" stroke="#222222" stroke-width="0.6"/>
<line x1="307.8" y1="309.6" x2="324.4" y2="309.6" stroke="#000" stroke-opacity="0.55" stroke-width="0.9"/>
<line x1="316.15" y1="325.5" x2="316.15" y2="327" stroke="#bbb" stroke-width="0.6"/>
<text x="316.15" y="333.0" font-family="Liberation Sans, sans-serif" font-size="4.7" text-anchor="middle" fill="#333" stroke="#333" stroke-width="0.12">POL II</text>
<line x1="336.9" y1="305.3" x2="336.9" y2="321.5" stroke="#cccccc" stroke-width="0.6"/>
<line x1="332.59999999999997" y1="305.3" x2="341.2" y2="305.3" stroke="#b4b4b4" stroke-width="0.6"/>
<line x1="332.59999999999997" y1="321.5" x2="341.2" y2="321.5" stroke="#bdbdbd" stroke-width="0.6"/>
<rect x="328.6" y="313.7" width="16.6" height="4.3" fill="#bdbdbd" stroke="#8a8a8a" stroke-width="0.6"/>
<line x1="328.6" y1="316" x2="345.2" y2="316" stroke="#000" stroke-opacity="0.55" stroke-width="0.9"/>
<line x1="336.9" y1="325.5" x2="336.9" y2="327" stroke="#bbb" stroke-width="0.6"/>
<text x="336.9" y="333.0" font-family="Liberation Sans, sans-serif" font-size="4.7" text-anchor="middle" fill="#333" stroke="#333" stroke-width="0.12">INPUT</text>
<text x="274.65" y="339.6" font-family="Liberation Sans, sans-serif" font-size="5.0" font-weight="bold" text-anchor="middle" fill="#555">ChIP-Seq Dataset</text>
<text x="275.4" y="229.8" font-family="Liberation Sans, sans-serif" font-size="8" text-anchor="middle" fill="#222" stroke="#222" stroke-width="0.1" textLength="76.5" lengthAdjust="spacingAndGlyphs">GATA1 Selective Sites</text>
<line x1="364.2" y1="230.3" x2="364.2" y2="322.7" stroke="#c8c8c8" stroke-width="0.8"/>
<line x1="376.2" y1="325.5" x2="513.52" y2="325.5" stroke="#c8c8c8" stroke-width="0.8"/>
<line x1="362.7" y1="321.7" x2="364.2" y2="321.7" stroke="#bbb" stroke-width="0.6"/>
<text x="362.0" y="324.0" font-family="Liberation Sans, sans-serif" font-size="6.3" font-style="italic" text-anchor="end" fill="#444">0</text>
<line x1="362.7" y1="299.1" x2="364.2" y2="299.1" stroke="#bbb" stroke-width="0.6"/>
<text x="362.0" y="301.4" font-family="Liberation Sans, sans-serif" font-size="6.3" font-style="italic" text-anchor="end" fill="#444">5</text>
<line x1="362.7" y1="276.5" x2="364.2" y2="276.5" stroke="#bbb" stroke-width="0.6"/>
<text x="362.0" y="278.8" font-family="Liberation Sans, sans-serif" font-size="6.3" font-style="italic" text-anchor="end" fill="#444">10</text>
<line x1="362.7" y1="253.9" x2="364.2" y2="253.9" stroke="#bbb" stroke-width="0.6"/>
<text x="362.0" y="256.2" font-family="Liberation Sans, sans-serif" font-size="6.3" font-style="italic" text-anchor="end" fill="#444">15</text>
<line x1="362.7" y1="231.3" x2="364.2" y2="231.3" stroke="#bbb" stroke-width="0.6"/>
<text x="362.0" y="233.6" font-family="Liberation Sans, sans-serif" font-size="6.3" font-style="italic" text-anchor="end" fill="#444">20</text>
<line x1="380.2" y1="292.6" x2="380.2" y2="321.7" stroke="#cccccc" stroke-width="0.6"/>
<line x1="375.9" y1="292.6" x2="384.5" y2="292.6" stroke="#b4b4b4" stroke-width="0.6"/>
<line x1="375.9" y1="321.7" x2="384.5" y2="321.7" stroke="#bdbdbd" stroke-width="0.6"/>
<rect x="372.2" y="307.9" width="16" height="9.6" fill="#086e08" stroke="#064a06" stroke-width="0.6"/>
<line x1="372.2" y1="312.7" x2="388.2" y2="312.7" stroke="#000" stroke-opacity="0.55" stroke-width="0.9"/>
<line x1="380.2" y1="325.5" x2="380.2" y2="327" stroke="#bbb" stroke-width="0.6"/>
<text x="380.2" y="333.0" font-family="Liberation Sans, sans-serif" font-size="4.7" text-anchor="middle" fill="#333" stroke="#333" stroke-width="0.12">GATA1</text>
<line x1="400.91999999999996" y1="223.8" x2="400.91999999999996" y2="321.7" stroke="#cccccc" stroke-width="0.6"/>
<line x1="396.61999999999995" y1="223.8" x2="405.21999999999997" y2="223.8" stroke="#b4b4b4" stroke-width="0.6"/>
<line x1="396.61999999999995" y1="321.7" x2="405.21999999999997" y2="321.7" stroke="#bdbdbd" stroke-width="0.6"/>
<rect x="392.9" y="267.3" width="16" height="29.5" fill="#08088e" stroke="#060660" stroke-width="0.6"/>
<line x1="392.9" y1="285.6" x2="408.9" y2="285.6" stroke="#000" stroke-opacity="0.55" stroke-width="0.9"/>
<line x1="400.91999999999996" y1="325.5" x2="400.91999999999996" y2="327" stroke="#bbb" stroke-width="0.6"/>
<text x="400.91999999999996" y="333.0" font-family="Liberation Sans, sans-serif" font-size="4.7" text-anchor="middle" fill="#333" stroke="#333" stroke-width="0.12">GATA2</text>
<line x1="421.64" y1="303.8" x2="421.64" y2="321.7" stroke="#cccccc" stroke-width="0.6"/>
<line x1="417.34" y1="303.8" x2="425.94" y2="303.8" stroke="#b4b4b4" stroke-width="0.6"/>
<line x1="417.34" y1="321.7" x2="425.94" y2="321.7" stroke="#bdbdbd" stroke-width="0.6"/>
<rect x="413.6" y="312.7" width="16" height="5.8" fill="#e8841c" stroke="#a85a10" stroke-width="0.6"/>
<line x1="413.6" y1="315.3" x2="429.6" y2="315.3" stroke="#000" stroke-opacity="0.55" stroke-width="0.9"/>
<line x1="421.64" y1="325.5" x2="421.64" y2="327" stroke="#bbb" stroke-width="0.6"/>
<text x="421.64" y="333.0" font-family="Liberation Sans, sans-serif" font-size="4.7" text-anchor="middle" fill="#333" stroke="#333" stroke-width="0.12">ETS1</text>
<line x1="442.36" y1="265.4" x2="442.36" y2="321.7" stroke="#cccccc" stroke-width="0.6"/>
<line x1="438.06" y1="265.4" x2="446.66" y2="265.4" stroke="#b4b4b4" stroke-width="0.6"/>
<line x1="438.06" y1="321.7" x2="446.66" y2="321.7" stroke="#bdbdbd" stroke-width="0.6"/>
<rect x="434.4" y="299" width="16" height="22.7" fill="#189696" stroke="#0e6a6a" stroke-width="0.6"/>
<line x1="434.4" y1="318.5" x2="450.4" y2="318.5" stroke="#000" stroke-opacity="0.55" stroke-width="0.9"/>
<line x1="442.36" y1="325.5" x2="442.36" y2="327" stroke="#bbb" stroke-width="0.6"/>
<text x="442.36" y="333.0" font-family="Liberation Sans, sans-serif" font-size="4.7" text-anchor="middle" fill="#333" stroke="#333" stroke-width="0.12">H3K4me3</text>
<line x1="463.08" y1="304.7" x2="463.08" y2="321.7" stroke="#cccccc" stroke-width="0.6"/>
<line x1="458.78" y1="304.7" x2="467.38" y2="304.7" stroke="#b4b4b4" stroke-width="0.6"/>
<line x1="458.78" y1="321.7" x2="467.38" y2="321.7" stroke="#bdbdbd" stroke-width="0.6"/>
<rect x="455.1" y="314.3" width="16" height="7.4" fill="#7a087a" stroke="#4a064a" stroke-width="0.6"/>
<line x1="463.08" y1="325.5" x2="463.08" y2="327" stroke="#bbb" stroke-width="0.6"/>
<text x="463.08" y="333.0" font-family="Liberation Sans, sans-serif" font-size="4.7" text-anchor="middle" fill="#333" stroke="#333" stroke-width="0.12">H3K27me3</text>
<line x1="483.79999999999995" y1="275" x2="483.79999999999995" y2="321.7" stroke="#cccccc" stroke-width="0.6"/>
<line x1="479.49999999999994" y1="275" x2="488.09999999999997" y2="275" stroke="#b4b4b4" stroke-width="0.6"/>
<line x1="479.49999999999994" y1="321.7" x2="488.09999999999997" y2="321.7" stroke="#bdbdbd" stroke-width="0.6"/>
<rect x="475.8" y="301.5" width="16" height="20.2" fill="#424242" stroke="#222222" stroke-width="0.6"/>
<line x1="483.79999999999995" y1="325.5" x2="483.79999999999995" y2="327" stroke="#bbb" stroke-width="0.6"/>
<text x="483.79999999999995" y="333.0" font-family="Liberation Sans, sans-serif" font-size="4.7" text-anchor="middle" fill="#333" stroke="#333" stroke-width="0.12">POL II</text>
<line x1="504.52" y1="305.7" x2="504.52" y2="321.7" stroke="#cccccc" stroke-width="0.6"/>
<line x1="500.21999999999997" y1="305.7" x2="508.82" y2="305.7" stroke="#b4b4b4" stroke-width="0.6"/>
<line x1="500.21999999999997" y1="321.7" x2="508.82" y2="321.7" stroke="#bdbdbd" stroke-width="0.6"/>
<rect x="496.5" y="311.8" width="16" height="5.7" fill="#bdbdbd" stroke="#8a8a8a" stroke-width="0.6"/>
<line x1="496.5" y1="315" x2="512.5" y2="315" stroke="#000" stroke-opacity="0.55" stroke-width="0.9"/>
<line x1="504.52" y1="325.5" x2="504.52" y2="327" stroke="#bbb" stroke-width="0.6"/>
<text x="504.52" y="333.0" font-family="Liberation Sans, sans-serif" font-size="4.7" text-anchor="middle" fill="#333" stroke="#333" stroke-width="0.12">INPUT</text>
<text x="442.36" y="339.6" font-family="Liberation Sans, sans-serif" font-size="5.0" font-weight="bold" text-anchor="middle" fill="#555">ChIP-Seq Dataset</text>
<text x="442.8" y="229.8" font-family="Liberation Sans, sans-serif" font-size="8" text-anchor="middle" fill="#222" stroke="#222" stroke-width="0.1" textLength="76.5" lengthAdjust="spacingAndGlyphs">GATA2 Selective Sites</text>
</svg></body></html>
